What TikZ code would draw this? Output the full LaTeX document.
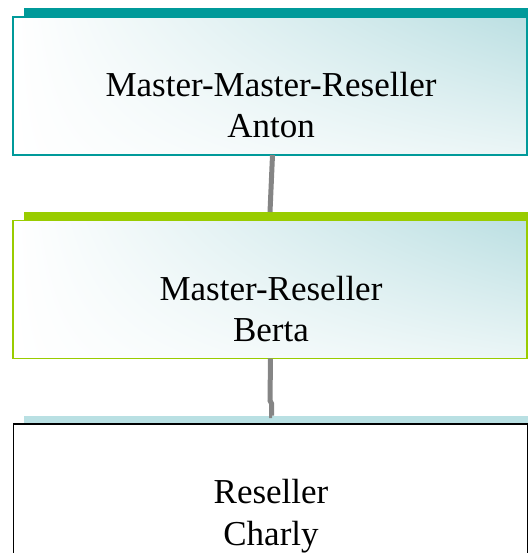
\documentclass[tikz,border=0pt]{standalone}
\usepackage{fontspec}
\usetikzlibrary{shadings}
\setmainfont{Liberation Serif}
\definecolor{tealbar}{HTML}{009A9A}
\definecolor{greenbar}{HTML}{99CC00}
\definecolor{lightbar}{HTML}{B9E0E3}
\definecolor{shadeteal}{HTML}{BBDFE2}
\definecolor{connector}{HTML}{858585}
\begin{document}
\begin{tikzpicture}[x=1bp,y=-1bp,
  bar/.style={inner sep=0pt, outer sep=0pt, minimum width=504bp, minimum height=9bp},
  box/.style={inner sep=0pt, outer sep=0pt, minimum width=514bp, minimum height=138bp, line width=1.3bp},
  gradbox/.style={box, shade, upper left=white, lower left=white,
                  upper right=shadeteal, lower right=shadeteal!30},
  label/.style={anchor=north, inner sep=0pt, align=center,
                font=\fontsize{35bp}{41.4bp}\selectfont},
  link/.style={draw=connector, line width=5bp}
]
\useasboundingbox (0,0) rectangle (528,553);
% bars
\node[bar, fill=tealbar]  (abar) at (276,12.5) {};
\node[bar, fill=greenbar] (bbar) at (276,216.5) {};
\node[bar, fill=lightbar] (cbar) at (276,420) {};
% boxes
\node[gradbox, draw=tealbar] (a) at (270,86) {};
\node[gradbox, draw=greenbar] (b) at (270,289.5) {};
\node[box, draw=black, fill=white] (c) at (270.5,493) {};
% texts
\node[label] (ta) at (271,72) {Master-Master-Reseller\\Anton};
\node[label] (tb) at (271,276) {Master-Reseller\\Berta};
\node[label] (tc) at (271,479.5) {Reseller\\Charly};
% connectors
\draw[link] ([xshift=2.5bp]a.south) -- ([xshift=-6bp]bbar.north);
\draw[link] ([xshift=0.5bp]b.south) -- ++(-0.5,42) -- ++(1.5,3) |- ([xshift=-4bp]cbar.north);
\end{tikzpicture}
\end{document}
